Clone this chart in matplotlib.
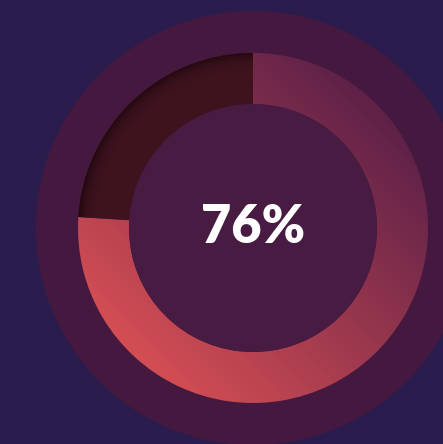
import numpy as np
import matplotlib.pyplot as plt
from matplotlib.patches import Circle
from matplotlib.colors import to_rgb

# data
values = [76, 24]
center_label = '76%'

# geometry in pixels (y measured from bottom)
cx, cy = 253, 216
r_halo, r_out, r_in = 217, 175, 124

fig = plt.figure(figsize=(4.43, 4.44), dpi=100)
fig.patch.set_facecolor('#2a1c4d')
ax = fig.add_axes([0, 0, 1, 1])
ax.set_facecolor('#2a1c4d')

# outer glow disc
ax.add_patch(Circle((cx, cy), r_halo, color='#45193f', lw=0, zorder=0.5))

# ring
wedges, _ = ax.pie(values, radius=r_out, center=(cx, cy), startangle=90,
                   counterclock=False, colors=['none', '#3f1420'],
                   wedgeprops=dict(width=r_out - r_in, linewidth=0))
for w in wedges:
    w.set_zorder(1)

# diagonal gradient for the filled part
xs = np.linspace(cx - r_out, cx + r_out, 400)
ys = np.linspace(cy - r_out, cy + r_out, 400)
X, Y = np.meshgrid(xs, ys)
t = ((cx - X) + (cy - Y)) / np.sqrt(2) / r_out   # -1 top-right .. 1 bottom-left
t = np.clip((t + 1) / 2, 0, 1)[..., None]
c0 = np.array(to_rgb('#5e2148'))
c1 = np.array(to_rgb('#d44e53'))
grad = c0 + (c1 - c0) * t
im = ax.imshow(grad, extent=(cx - r_out, cx + r_out, cy - r_out, cy + r_out),
               origin='lower', zorder=2, interpolation='bilinear')
im.set_clip_path(wedges[0])

# inner shadow for the empty part
R = np.hypot(X - cx, Y - cy)
shade = np.exp(-(r_out - R) / 7.0)[..., None]
base = np.array(to_rgb('#40141f'))
dark = np.array(to_rgb('#22080f'))
sh = base + (dark - base) * np.clip(shade, 0, 1)
im2 = ax.imshow(sh, extent=(cx - r_out, cx + r_out, cy - r_out, cy + r_out),
                origin='lower', zorder=2, interpolation='bilinear')
im2.set_clip_path(wedges[1])

# centre disc
ax.add_patch(Circle((cx, cy), r_in, color='#471b42', lw=0, zorder=3))

ax.text(cx, 201, center_label, ha='center', va='baseline', color='white',
        fontsize=37.5, fontweight='heavy', family=['Lato', 'DejaVu Sans'], zorder=4)

ax.set_xlim(0, 443)
ax.set_ylim(0, 444)
ax.set_aspect('auto')
ax.axis('off')

fig.savefig('out.png', dpi=100, facecolor=fig.get_facecolor())
